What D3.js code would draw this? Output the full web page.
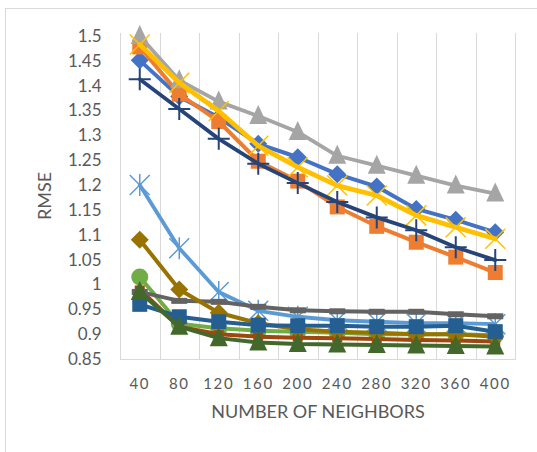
<!DOCTYPE html>
<html><head><meta charset="utf-8">
<script src="https://cdn.jsdelivr.net/npm/d3@7"></script>
<style>body{margin:0;background:#fff} svg{display:block}</style>
</head><body><svg id="c" width="537" height="452"></svg>
<script>
// ---- data ----
const categories = [40, 80, 120, 160, 200, 240, 280, 320, 360, 400];
const yTickValues = [0.85, 0.9, 0.95, 1, 1.05, 1.1, 1.15, 1.2, 1.25, 1.3, 1.35, 1.4, 1.45, 1.5];
const yTickLabels = ["0.85", "0.9", "0.95", "1", "1.05", "1.1", "1.15", "1.2", "1.25", "1.3", "1.35", "1.4", "1.45", "1.5"];
const xTitle = "NUMBER OF NEIGHBORS";
const yTitle = "RMSE";

const series01 = [1.451, 1.378, 1.336, 1.283, 1.256, 1.222, 1.197, 1.152, 1.130, 1.105];
const series02 = [1.478, 1.383, 1.328, 1.248, 1.208, 1.156, 1.117, 1.085, 1.055, 1.024];
const series03 = [1.500, 1.411, 1.368, 1.339, 1.307, 1.259, 1.239, 1.219, 1.199, 1.183];
const series04 = [1.483, 1.406, 1.349, 1.279, 1.236, 1.199, 1.179, 1.139, 1.115, 1.092];
const series05 = [1.200, 1.073, 0.985, 0.947, 0.935, 0.928, 0.925, 0.922, 0.922, 0.920];
const series06 = [1.015, 0.921, 0.912, 0.907, 0.905, 0.903, 0.900, 0.900, 0.900, 0.898];
const series07 = [1.413, 1.353, 1.293, 1.243, 1.204, 1.166, 1.135, 1.109, 1.075, 1.049];
const series08 = [0.990, 0.915, 0.900, 0.895, 0.893, 0.892, 0.890, 0.888, 0.887, 0.885];
const series09 = [0.985, 0.967, 0.965, 0.955, 0.948, 0.946, 0.945, 0.945, 0.940, 0.936];
const series10 = [1.090, 0.990, 0.943, 0.922, 0.910, 0.905, 0.903, 0.900, 0.900, 0.895];
const series11 = [0.960, 0.935, 0.925, 0.918, 0.917, 0.917, 0.915, 0.915, 0.917, 0.905];
const series12 = [0.985, 0.915, 0.892, 0.883, 0.880, 0.879, 0.878, 0.877, 0.876, 0.875];

// ---- styles ----
const seriesList = [series01, series02, series03, series04, series05, series06,
                    series07, series08, series09, series10, series11, series12];
const colors = ["#4472C4", "#ED7D31", "#A5A5A5", "#FFC000", "#5B9BD5", "#70AD47",
                "#264478", "#9E480E", "#636363", "#997300", "#255E91", "#43682B"];
const markers = ["diamond", "square", "triangle", "x", "star", "circle",
                 "plus", "dot", "dash", "diamond", "square", "triangle"];
const lineWidths = [4, 4, 3.8, 4.8, 3.8, 4, 3.8, 4, 4, 4, 4, 4];

const plot = {left: 120, right: 515, top: 33, bottom: 359};
const svg = d3.select("#c");
const FONT = "Lato, 'Open Sans', sans-serif";
const TXT = "#595959";
const GRID = "#d9d9d9";

// chart frame
svg.append("rect").attr("x", 5.5).attr("y", 8.5).attr("width", 700).attr("height", 700)
  .attr("fill", "#fff").attr("stroke", GRID).attr("stroke-width", 1);

const x = d3.scaleBand().domain(categories).range([plot.left, plot.right]);
const y = d3.scaleLinear().domain([0.85, 1.5]).range([plot.bottom, 36]);
const cx = d => x(d) + x.bandwidth() / 2;

// vertical gridlines at category boundaries
const bounds = categories.map(c => x(c)).concat([plot.right]);
svg.append("g").selectAll("line").data(bounds).join("line")
  .attr("x1", d => Math.round(d) + 0.5).attr("x2", d => Math.round(d) + 0.5)
  .attr("y1", plot.top).attr("y2", plot.bottom)
  .attr("stroke", GRID).attr("stroke-width", 1);
svg.append("line").attr("x1", plot.left).attr("x2", plot.right + 1)
  .attr("y1", plot.bottom + 0.5).attr("y2", plot.bottom + 0.5)
  .attr("stroke", GRID).attr("stroke-width", 1);

// y axis
const yAxis = d3.axisLeft(y).tickValues(yTickValues)
  .tickFormat((d, i) => yTickLabels[i]).tickSize(0).tickPadding(18.5);
const gy = svg.append("g").attr("transform", `translate(${plot.left},0)`).call(yAxis);
gy.select(".domain").remove();
gy.selectAll("text").attr("font-family", FONT).attr("font-size", 17).attr("fill", TXT);

// x axis
const xAxis = d3.axisBottom(x).tickSize(0).tickPadding(0);
const gx = svg.append("g").attr("transform", `translate(0,${plot.bottom})`).call(xAxis);
gx.select(".domain").remove();
gx.selectAll("text").attr("font-family", FONT).attr("font-size", 15).attr("fill", TXT)
  .attr("letter-spacing", 1.6).attr("dy", null).attr("y", 30);

// titles
svg.append("text").attr("x", 318).attr("y", 418).attr("text-anchor", "middle")
  .attr("font-family", FONT).attr("font-size", 18).attr("fill", TXT).text(xTitle);
svg.append("text").attr("transform", "translate(51,196) rotate(-90)").attr("text-anchor", "middle")
  .attr("font-family", FONT).attr("font-size", 18).attr("fill", TXT).text(yTitle);

function drawMarker(g, type, color) {
  switch (type) {
    case "diamond":
      g.append("path").attr("d", "M0,-9L9,0L0,9L-9,0Z").attr("fill", color); break;
    case "square":
      g.append("rect").attr("x", -7.5).attr("y", -7.5).attr("width", 15).attr("height", 15).attr("fill", color); break;
    case "triangle":
      g.append("path").attr("d", "M0,-11L9,8L-9,8Z").attr("fill", color); break;
    case "x":
      g.append("path").attr("d", "M-10,-10L10,10M10,-10L-10,10").attr("stroke", color).attr("stroke-width", 1.5).attr("fill", "none"); break;
    case "star":
      g.append("path").attr("d", "M-10,-10L10,10M10,-10L-10,10M0,-11L0,11").attr("stroke", color).attr("stroke-width", 1.5).attr("fill", "none"); break;
    case "circle":
      g.append("circle").attr("r", 8.5).attr("fill", color); break;
    case "plus":
      g.append("path").attr("d", "M-11,0L11,0M0,-11L0,11").attr("stroke", color).attr("stroke-width", 2).attr("fill", "none"); break;
    case "dot":
      g.append("rect").attr("x", -5).attr("y", -4).attr("width", 10).attr("height", 8).attr("fill", color); break;
    case "dash":
      g.append("rect").attr("x", -8).attr("y", -3).attr("width", 16).attr("height", 6).attr("fill", color); break;
  }
}

const line = d3.line().x((d, i) => cx(categories[i])).y(d => y(d));
seriesList.forEach((vals, si) => {
  const g = svg.append("g");
  g.append("path").datum(vals).attr("d", line).attr("fill", "none")
    .attr("stroke", colors[si]).attr("stroke-width", lineWidths[si])
    .attr("stroke-linejoin", "round").attr("stroke-linecap", "round");
  g.selectAll("g.m").data(vals).join("g").attr("class", "m")
    .attr("transform", (d, i) => `translate(${cx(categories[i])},${y(d)})`)
    .each(function () { drawMarker(d3.select(this), markers[si], colors[si]); });
});
</script>
</body></html>
